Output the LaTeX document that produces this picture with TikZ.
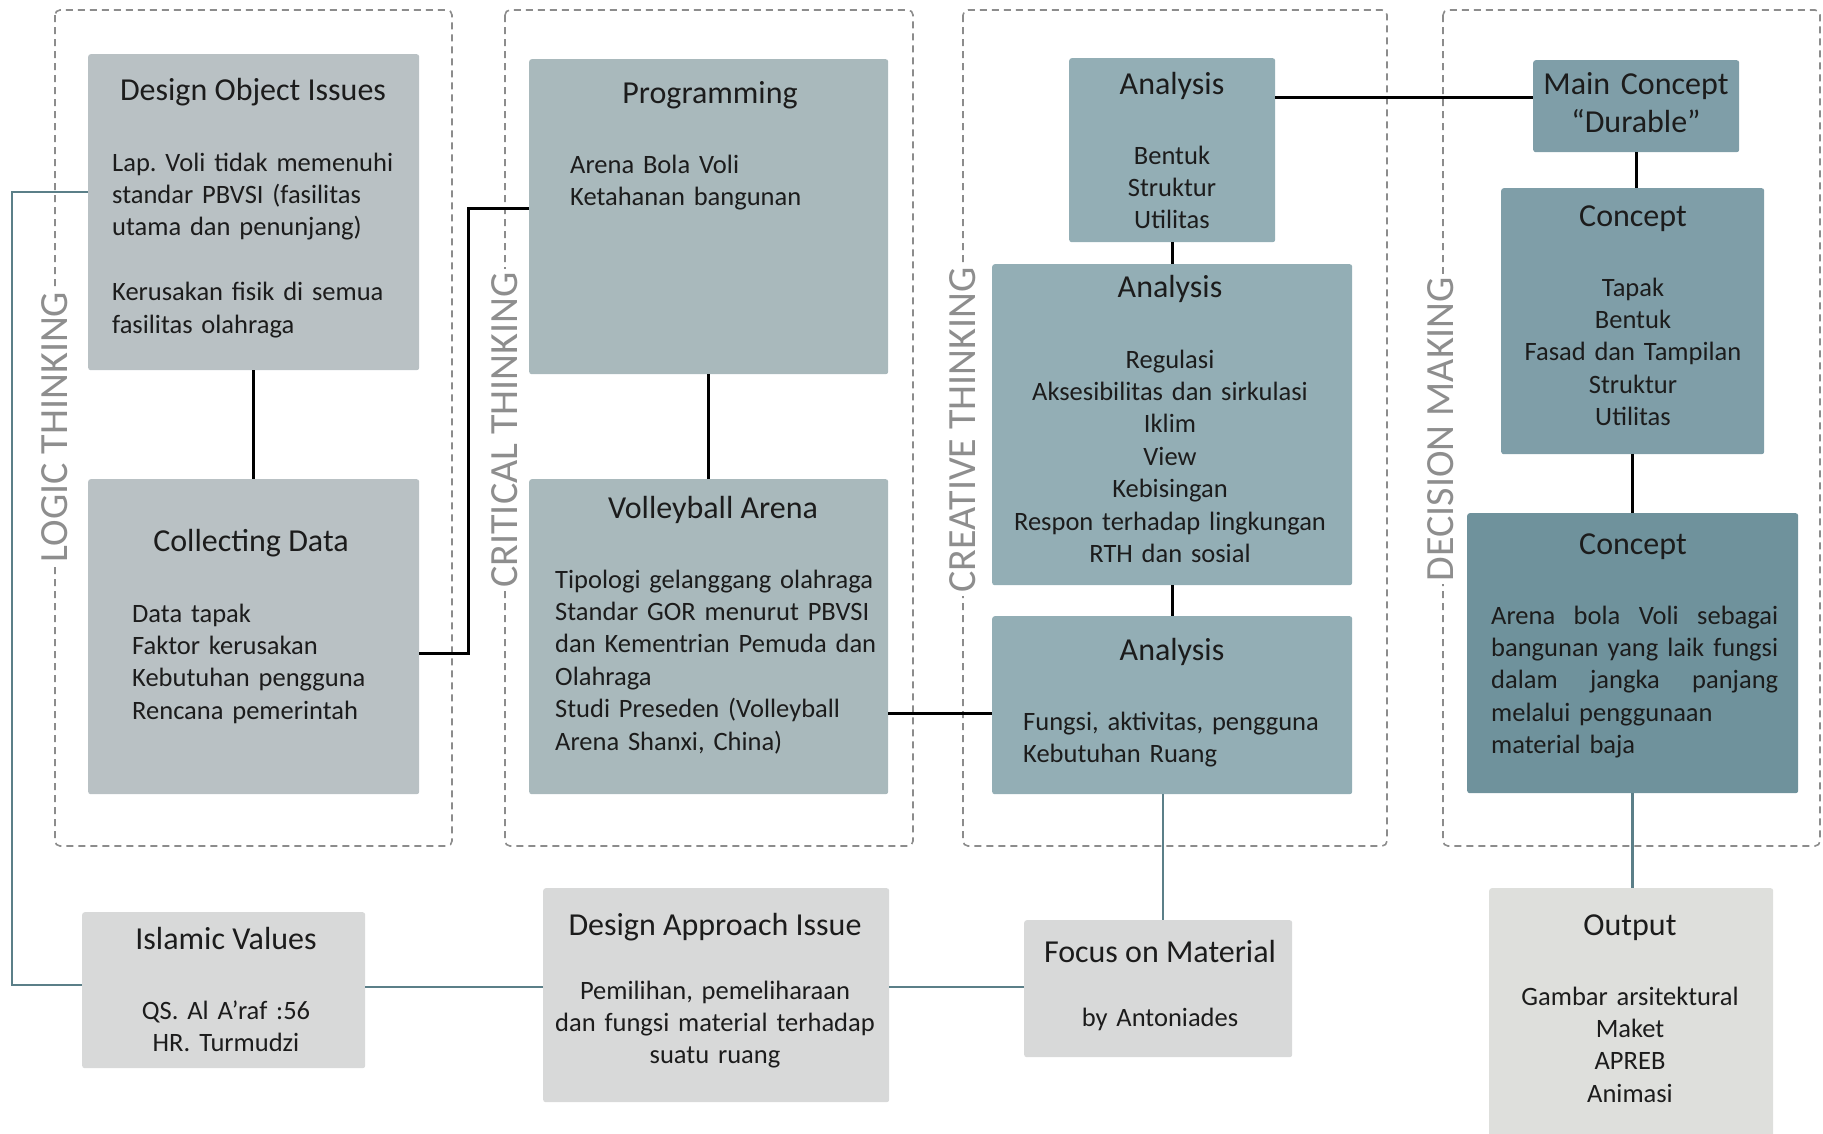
\documentclass[tikz,border=0pt]{standalone}
\usepackage{fontspec}
\setmainfont{Carlito}
\frenchspacing
\definecolor{ink}{HTML}{1C1C1C}
\definecolor{logicfill}{HTML}{B9C1C4}
\definecolor{critfill}{HTML}{A9B9BC}
\definecolor{creafill}{HTML}{93AEB5}
\definecolor{decfill}{HTML}{7F9EA8}
\definecolor{decdark}{HTML}{6F929C}
\definecolor{basefill}{HTML}{D8D9D9}
\definecolor{outfill}{HTML}{DEDFDC}
\definecolor{phaseline}{HTML}{8C8C8C}
\definecolor{phasetext}{HTML}{8E8E8E}
\definecolor{tealline}{HTML}{5B7F88}
\newcommand{\spreadline}[1]{\leavevmode\hbox to 287pt{#1}}
\tikzset{
  box/.style={anchor=north west, inner sep=0pt, rounded corners=2.5pt},
  ttl/.style={anchor=base, inner sep=0pt, text=ink, font=\fontsize{32}{38}\selectfont},
  txt/.style={anchor=base west, inner sep=0pt, align=left, text=ink, font=\fontsize{26.5}{32.4}\selectfont},
  ctxt/.style={anchor=base, inner sep=0pt, align=center, text=ink, font=\fontsize{26.5}{32.4}\selectfont},
  phase/.style={draw=phaseline, line width=1.6pt, dash pattern=on 7pt off 5pt, rounded corners=5pt},
  phaselabel/.style={rotate=90, fill=white, inner sep=3pt, text=phasetext, font=\fontsize{40}{40}\selectfont},
  link/.style={draw=black, line width=3pt},
  tlink/.style={draw=tealline, line width=2.5pt},
}
\begin{document}
\begin{tikzpicture}[x=1pt,y=-1pt]
  \useasboundingbox (0,0) rectangle (1823,1133);
  % thinking phases: dashed frames with rotated labels
  \foreach \xa/\xb in {55/452,505/913,963/1387,1443/1820}
    \draw[phase] (\xa,10) rectangle (\xb,846);
  \foreach \nm/\x/\y/\lbl in {logic/55/427/LOGIC THINKING,crit/505/430/CRITICAL THINKING,
      crea/963/430/CREATIVE THINKING,dec/1441/429/DECISION MAKING}
    \node[phaselabel] (ph-\nm) at (\x,\y) {\lbl};

  % logic thinking
  \node[box, fill=logicfill, minimum width=331pt, minimum height=316pt] (doi) at (88,54) {};
  \node[ttl] (doi-t) at (253,100) {Design Object Issues};
  \node[txt, text width=300pt] (doi-b) at (112,171) {Lap. Voli tidak memenuhi\\ standar PBVSI (fasilitas\\ utama dan penunjang)\\[32.4pt] Kerusakan fisik di semua\\ fasilitas olahraga};
  \node[box, fill=logicfill, minimum width=331pt, minimum height=315pt] (cd) at (88,479) {};
  \node[ttl] (cd-t) at (251,551) {Collecting Data};
  \node[txt, text width=270pt] (cd-b) at (132,622) {Data tapak\\ Faktor kerusakan\\ Kebutuhan pengguna\\ Rencana pemerintah};

  % critical thinking
  \node[box, fill=critfill, minimum width=359pt, minimum height=315pt] (prog) at (529,59) {};
  \node[ttl] (prog-t) at (710,103) {Programming};
  \node[txt, text width=300pt] (prog-b) at (570,173) {Arena Bola Voli\\ Ketahanan bangunan};
  \node[box, fill=critfill, minimum width=359pt, minimum height=315pt] (va) at (529,479) {};
  \node[ttl] (va-t) at (713,518) {Volleyball Arena};
  \node[txt, text width=330pt] (va-b) at (555,588) {Tipologi gelanggang olahraga\\ Standar GOR menurut PBVSI\\ dan Kementrian Pemuda dan\\ Olahraga\\ Studi Preseden (Volleyball\\ Arena Shanxi, China)};

  % creative thinking
  \node[box, fill=creafill, minimum width=206pt, minimum height=184pt] (an1) at (1069,58) {};
  \node[ttl] (an1-t) at (1172,94) {Analysis};
  \node[ctxt, text width=200pt] (an1-b) at (1172,164) {Bentuk\\ Struktur\\ Utilitas};
  \node[box, fill=creafill, minimum width=360pt, minimum height=321pt] (an2) at (992,264) {};
  \node[ttl] (an2-t) at (1170,297) {Analysis};
  \node[ctxt, text width=350pt] (an2-b) at (1170,368) {Regulasi\\ Aksesibilitas dan sirkulasi\\ Iklim\\ View\\ Kebisingan\\ Respon terhadap lingkungan\\ RTH dan sosial};
  \node[box, fill=creafill, minimum width=360pt, minimum height=178pt] (an3) at (992,616) {};
  \node[ttl] (an3-t) at (1172,660) {Analysis};
  \node[txt, text width=320pt] (an3-b) at (1023,730) {Fungsi, aktivitas, pengguna\\ Kebutuhan Ruang};

  % decision making
  \node[box, fill=decfill, minimum width=206pt, minimum height=92pt] (mc) at (1533,60) {};
  \node[ttl, align=center, text width=200pt] (mc-t) at (1636,94) {Main Concept\\ “Durable”};
  \node[box, fill=decfill, minimum width=263pt, minimum height=266pt] (c1) at (1501,188) {};
  \node[ttl] (c1-t) at (1633,226) {Concept};
  \node[ctxt, text width=255pt] (c1-b) at (1633,296) {Tapak\\ Bentuk\\ Fasad dan Tampilan\\ Struktur\\ Utilitas};
  \node[box, fill=decdark, minimum width=331pt, minimum height=280pt] (c2) at (1467,513) {};
  \node[ttl] (c2-t) at (1633,554) {Concept};
  \node[txt, text width=287pt] (c2-b) at (1491,624) {\spreadline{Arena\hfill bola\hfill Voli\hfill sebagai}\\ \spreadline{bangunan\hfill yang\hfill laik\hfill fungsi}\\ \spreadline{dalam\hfill jangka\hfill panjang}\\ melalui penggunaan\\ material baja};

  % bottom row
  \node[box, fill=basefill, minimum width=283pt, minimum height=156pt] (isl) at (82,912) {};
  \node[ttl] (isl-t) at (226,949) {Islamic Values};
  \node[ctxt, text width=270pt] (isl-b) at (226,1019) {QS. Al A’raf :56\\ HR. Turmudzi};
  \node[box, fill=basefill, minimum width=346pt, minimum height=214pt] (dai) at (543,888) {};
  \node[ttl] (dai-t) at (715,935) {Design Approach Issue};
  \node[ctxt, text width=340pt] (dai-b) at (715,999) {Pemilihan, pemeliharaan\\ dan fungsi material terhadap\\ suatu ruang};
  \node[box, fill=basefill, minimum width=268pt, minimum height=137pt] (fom) at (1024,920) {};
  \node[ttl] (fom-t) at (1160,962) {Focus on Material};
  \node[ctxt, text width=260pt] (fom-b) at (1160,1026) {by Antoniades};
  \node[box, fill=outfill, minimum width=284pt, minimum height=260pt] (out) at (1489,888) {};
  \node[ttl] (out-t) at (1630,935) {Output};
  \node[ctxt, text width=275pt] (out-b) at (1630,1005) {Gambar arsitektural\\ Maket\\ APREB\\ Animasi};

  % black connectors
  \draw[link] (doi.south) -- (cd.north);
  \draw[link] ([yshift=-16.5pt]cd.east) -- ++(49,0) |- ([yshift=8.5pt]prog.west);
  \draw[link] (prog.south) -- (va.north);
  \draw[link] ([yshift=-76.5pt]va.east) coordinate (va-o) -- (va-o -| an3.west);
  \draw[link] ([yshift=53pt]an1.east) coordinate (an1-o) -- (an1-o -| mc.west);
  \draw[link] (an1.south) -- (an2.north);
  \draw[link] (an2.south) -- (an3.north);
  \draw[link] (mc.south) -- (mc.south |- c1.north);
  \draw[link] (c1.south) -- (c2.north);
  % teal connectors
  \draw[tlink] ([yshift=20pt]doi.west) -- ++(-76,0) |- ([yshift=5pt]isl.west);
  \draw[tlink] ([yshift=3pt]isl.east) coordinate (isl-o) -- (isl-o -| dai.west);
  \draw[tlink] (isl-o -| dai.east) -- (isl-o -| fom.west);
  \draw[tlink] ([xshift=5pt]fom.north |- an3.south) -- ([xshift=5pt]fom.north);
  \draw[tlink] (c2.south) -- (c2.south |- out.north);
\end{tikzpicture}
\end{document}
